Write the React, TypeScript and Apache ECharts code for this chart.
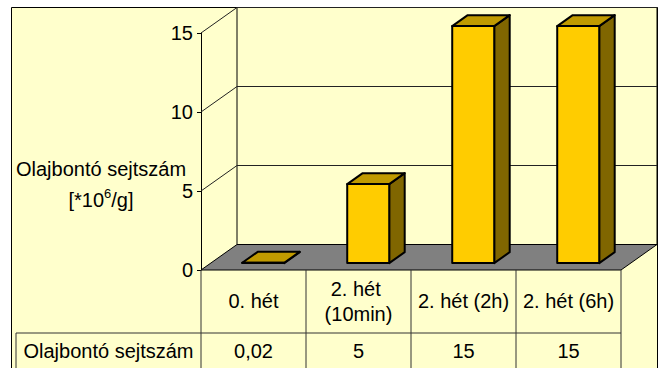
import React, { useEffect, useRef } from 'react';
import * as echarts from 'echarts';

// Oil-degrading cell counts per sampling time
const categories = ['0. hét', '2. hét (10min)', '2. hét (2h)', '2. hét (6h)'];
const cellCounts = [0.02, 5, 15, 15];
const yTicks = [0, 5, 10, 15];
const rowLabel = 'Olajbontó sejtszám';

// pseudo-3D geometry (pixels / fractions of the depth)
const DEPTH_X = 36;
const DEPTH_Y = 25.5;
const BAR_FRONT = 0.27;
const BAR_BACK = 0.7;
const BAR_WIDTH = 0.4;

// data table below the plot
const ROW1_H = 63;
const ROW2_H = 36;
const HEADER_W = 185;

const FONT = "'Liberation Sans', Arial, sans-serif";
const FS = 20;

const BG = '#FFFFCC';
const LINE = '#000';

function textEl(text: string, x: number, y: number) {
  return {
    type: 'text',
    style: {
      text,
      x,
      y,
      fill: '#000',
      font: `${FS}px ${FONT}`,
      align: 'center',
      verticalAlign: 'middle',
      textAlign: 'center',
      textVerticalAlign: 'middle',
    },
  };
}

function lineEl(x1: number, y1: number, x2: number, y2: number, color = LINE, w = 1) {
  return {
    type: 'line',
    shape: { x1, y1, x2, y2 },
    style: { stroke: color, lineWidth: w },
  };
}

export default function App() {
  const ref = useRef<HTMLDivElement>(null);

  useEffect(() => {
    if (!ref.current) return;
    const chart = echarts.init(ref.current, null, { renderer: 'svg' });

    const option: any = {
      animation: false,
      backgroundColor: '#fff',
      grid: { left: 201, right: 42, top: 33, bottom: 98 },
      graphic: [
        {
          type: 'rect',
          z: -10,
          shape: { x: 11.5, y: 7.5, width: 646, height: 400 },
          style: { fill: BG, stroke: '#000', lineWidth: 1 },
          silent: true,
        },
        {
          type: 'text',
          z: 10,
          x: 101,
          y: 184,
          style: {
            text: '{a|Olajbontó sejtszám}\n{a|[*10}{s|6}{a|/g]}',
            align: 'center',
            verticalAlign: 'middle',
            textAlign: 'center',
            textVerticalAlign: 'middle',
            rich: {
              a: { fontFamily: FONT, fontSize: FS, lineHeight: 31, fill: '#000', color: '#000' },
              s: {
                fontFamily: FONT,
                fontSize: 13,
                lineHeight: 31,
                fill: '#000',
                color: '#000',
                padding: [0, 0, 12, 0],
              },
            },
          },
          silent: true,
        },
      ],
      xAxis: {
        type: 'category',
        data: categories,
        axisLine: { show: false },
        axisTick: { show: false },
        splitLine: { show: false },
        axisLabel: {
          interval: 0,
          margin: 31,
          verticalAlign: 'middle',
          width: 102,
          overflow: 'break',
          lineHeight: 25,
          fontSize: FS,
          fontFamily: FONT,
          color: '#000',
        },
      },
      yAxis: {
        type: 'value',
        min: 0,
        max: 15,
        interval: 5,
        axisLine: { show: true, lineStyle: { color: '#000', width: 1 } },
        axisTick: { show: true, length: 4, lineStyle: { color: '#000' } },
        splitLine: { show: false },
        axisLabel: { margin: 8, fontSize: FS, fontFamily: FONT, color: '#000' },
      },
      series: [
        {
          // walls, gridlines and floor
          type: 'custom',
          z: 1,
          silent: true,
          clip: false,
          data: yTicks.map((v) => [0, v]),
          encode: { x: 0, y: 1 },
          renderItem: (params: any, api: any) => {
            const cs = params.coordSys;
            const v = api.value(1);
            const y = api.coord([0, v])[1];
            const L = cs.x;
            const R = cs.x + cs.width;
            const children: any[] = [];
            if (v === yTicks[0]) {
              const top = api.coord([0, yTicks[yTicks.length - 1]])[1];
              children.push(lineEl(L + DEPTH_X, top - DEPTH_Y, L + DEPTH_X, y - DEPTH_Y));
              children.push(lineEl(R + DEPTH_X, top - DEPTH_Y, R + DEPTH_X, y - DEPTH_Y));
              children.push({
                type: 'polygon',
                shape: {
                  points: [
                    [L, y],
                    [R, y],
                    [R + DEPTH_X, y - DEPTH_Y],
                    [L + DEPTH_X, y - DEPTH_Y],
                  ],
                },
                style: { fill: '#808080', stroke: '#000', lineWidth: 1 },
              });
            } else {
              children.push({
                type: 'polyline',
                shape: {
                  points: [
                    [L, y],
                    [L + DEPTH_X, y - DEPTH_Y],
                    [R + DEPTH_X, y - DEPTH_Y],
                  ],
                },
                style: { stroke: '#222', lineWidth: 1, fill: 'none' },
              });
            }
            return { type: 'group', children };
          },
        },
        {
          // 3D columns
          type: 'custom',
          name: rowLabel,
          z: 3,
          silent: true,
          clip: false,
          data: cellCounts.map((v, i) => [i, v]),
          encode: { x: 0, y: 1 },
          renderItem: (params: any, api: any) => {
            const i = api.value(0);
            const v = api.value(1);
            const base = api.coord([i, 0]);
            const topP = api.coord([i, v]);
            const band = api.size([1, 0])[0];
            const w = band * BAR_WIDTH;
            const fx = DEPTH_X * BAR_FRONT;
            const fy = DEPTH_Y * BAR_FRONT;
            const dx = DEPTH_X * (BAR_BACK - BAR_FRONT);
            const dy = DEPTH_Y * (BAR_BACK - BAR_FRONT);
            const xl = base[0] - w / 2 + fx;
            const xr = xl + w;
            const yb = base[1] - fy;
            const yt = topP[1] - fy;
            const edge = { stroke: '#000', lineWidth: 2, lineJoin: 'round' };
            return {
              type: 'group',
              children: [
                {
                  type: 'polygon',
                  shape: { points: [[xr, yt], [xr + dx, yt - dy], [xr + dx, yb - dy], [xr, yb]] },
                  style: { fill: '#806600', ...edge },
                },
                {
                  type: 'polygon',
                  shape: { points: [[xl, yt], [xr, yt], [xr + dx, yt - dy], [xl + dx, yt - dy]] },
                  style: { fill: '#C09A00', ...edge },
                },
                {
                  type: 'rect',
                  shape: { x: xl, y: yt, width: w, height: Math.max(yb - yt, 0) },
                  style: { fill: '#FFCC00', ...edge },
                },
              ],
            };
          },
        },
        {
          // data table
          type: 'custom',
          z: 2,
          silent: true,
          clip: false,
          data: cellCounts.map((v, i) => [i, v]),
          encode: { x: 0, y: 1 },
          renderItem: (params: any, api: any) => {
            const i = api.value(0);
            const v = api.value(1);
            const base = api.coord([i, 0]);
            const band = api.size([1, 0])[0];
            const x0 = base[0] - band / 2;
            const x1 = base[0] + band / 2;
            const yTop = base[1];
            const yRow = yTop + ROW1_H;
            const yEnd = yTop + 200;
            const col = '#333';
            const children: any[] = [
              lineEl(x1, yTop, x1, yEnd, col),
              lineEl(x0, yRow, x1, yRow, col),
              textEl(String(v).replace('.', ','), base[0], yRow + ROW2_H / 2),
            ];
            if (i === 0) {
              const hx = x0 - HEADER_W;
              children.push(lineEl(x0, yTop, x0, yEnd, col));
              children.push(lineEl(hx, yRow, x0, yRow, col));
              children.push(lineEl(hx, yRow, hx, yEnd, col));
              children.push(textEl(rowLabel, (hx + x0) / 2, yRow + ROW2_H / 2));
            }
            return { type: 'group', children };
          },
        },
      ],
    };

    chart.setOption(option);
    return () => chart.dispose();
  }, []);

  return (
    <div
      ref={ref}
      style={{ position: 'fixed', left: 0, top: 0, width: 663, height: 368 }}
    />
  );
}
